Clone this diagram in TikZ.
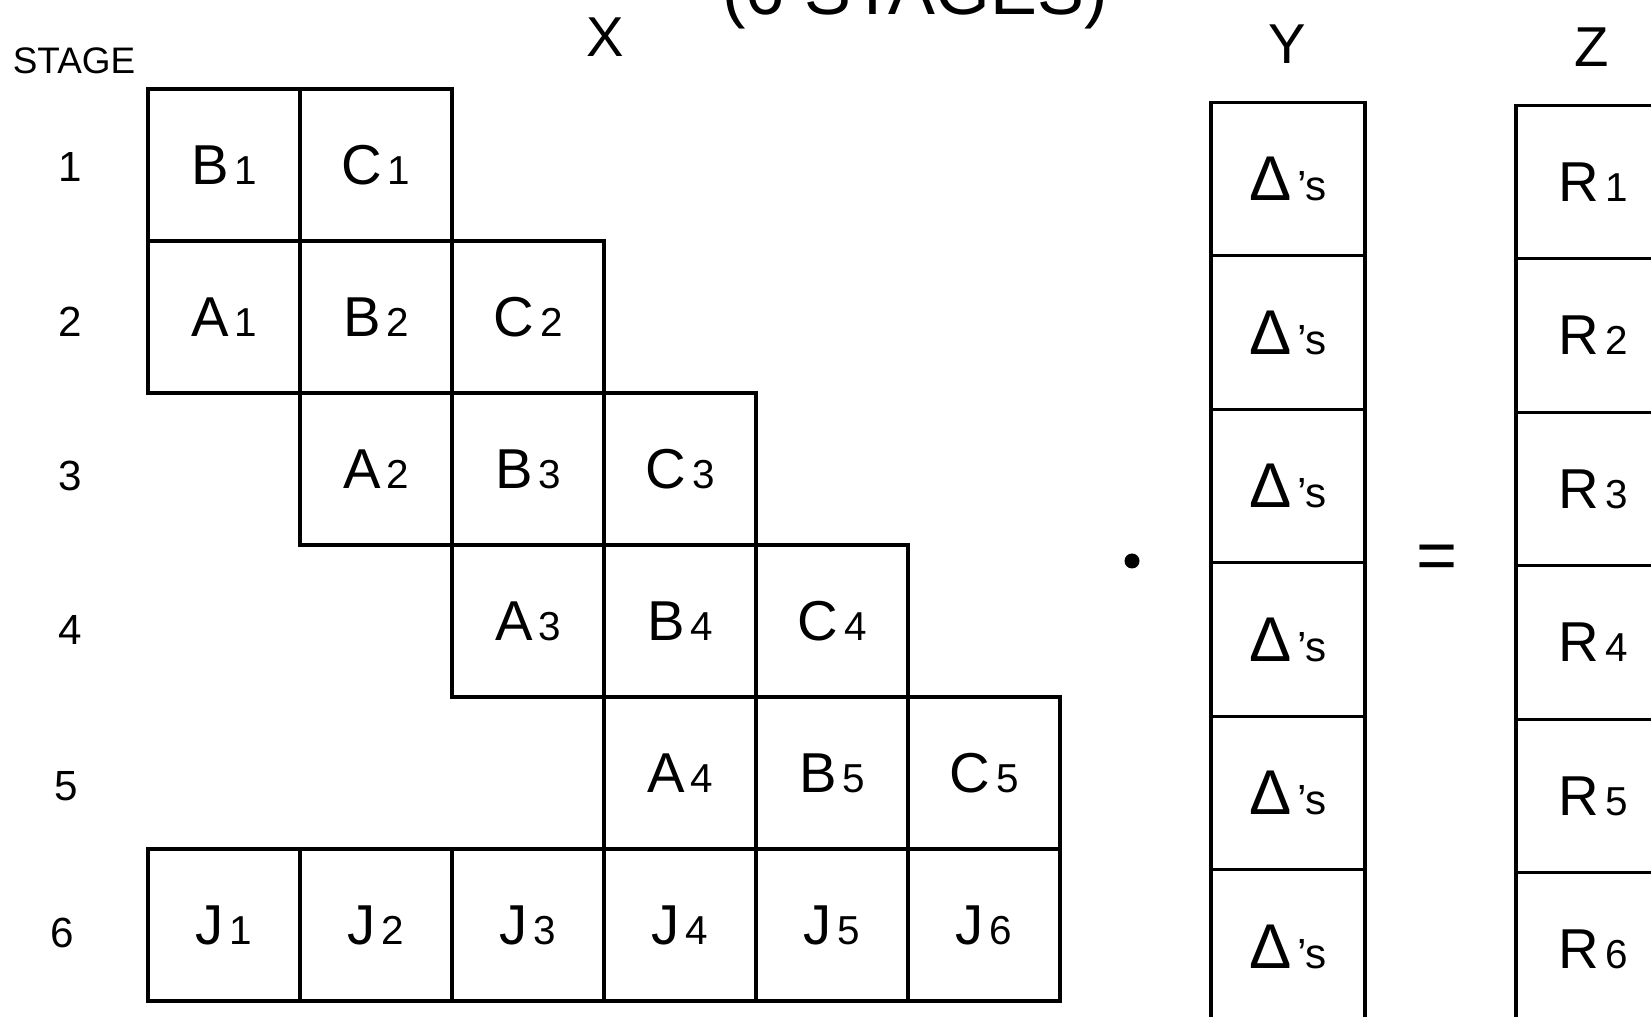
\documentclass[tikz,border=0pt]{standalone}
\usepackage{fontspec}
\setmainfont{Liberation Sans}
\usetikzlibrary{positioning}
\newcommand\cellbig{\fontsize{16}{18}\selectfont}
\newcommand\cellsmall{\fontsize{11.5}{13}\selectfont}
\newcommand\lbl[2]{{\cellbig #1}\,{\cellsmall #2}}
\newcommand\deltas{{\fontsize{18}{20}\selectfont Δ}\,{\fontsize{12}{14}\selectfont ’s}}
\tikzset{
  cell/.style={
    draw,
    line width=0.9pt,
    minimum width=1.52cm,
    minimum height=1.52cm,
    inner sep=0pt,
    outer sep=0pt
  },
  colcell/.style={
    cell,
    minimum width=1.54cm,
    minimum height=1.535cm
  },
  stagelbl/.style={font=\fontsize{10.5}{12}\selectfont},
  stagenum/.style={font=\fontsize{12}{14}\selectfont},
  heading/.style={font=\fontsize{16}{18}\selectfont}
}
\begin{document}
\begin{tikzpicture}
  \path[use as bounding box,clip] (0,0) rectangle (16.51,-10.17);
  \fill[white] (0,0) rectangle (16.51,-10.17);
  % headings
  \node[heading,font=\fontsize{20}{22}\selectfont,anchor=base] (title) at (9.15,-0.15) {(6 STAGES)};
  \node[stagelbl] (stage) at (0.74,-0.61) {STAGE};
  \node[heading] (xhead) at (6.05,-0.37) {X};
  \node[heading] (yhead) at (12.87,-0.44) {Y};
  \node[heading] (zhead) at (15.92,-0.47) {Z};
  % stage numbers
  \node[stagenum] (st1) at (0.70,-1.67) {1};
  \node[stagenum] (st2) at (0.70,-3.22) {2};
  \node[stagenum] (st3) at (0.70,-4.76) {3};
  \node[stagenum] (st4) at (0.70,-6.30) {4};
  \node[stagenum] (st5) at (0.66,-7.86) {5};
  \node[stagenum] (st6) at (0.62,-9.33) {6};
  % matrix X
  \node[cell] (b1) at (2.24,-1.65) {\lbl{B}{1}};
  \node[cell,right=0pt of b1] (c1) {\lbl{C}{1}};
  \node[cell,below=0pt of b1] (a1) {\lbl{A}{1}};
  \node[cell,right=0pt of a1] (b2) {\lbl{B}{2}};
  \node[cell,right=0pt of b2] (c2) {\lbl{C}{2}};
  \node[cell,below=0pt of b2] (a2) {\lbl{A}{2}};
  \node[cell,right=0pt of a2] (b3) {\lbl{B}{3}};
  \node[cell,right=0pt of b3] (c3) {\lbl{C}{3}};
  \node[cell,below=0pt of b3] (a3) {\lbl{A}{3}};
  \node[cell,right=0pt of a3] (b4) {\lbl{B}{4}};
  \node[cell,right=0pt of b4] (c4) {\lbl{C}{4}};
  \node[cell,below=0pt of b4] (a4) {\lbl{A}{4}};
  \node[cell,right=0pt of a4] (b5) {\lbl{B}{5}};
  \node[cell,right=0pt of b5] (c5) {\lbl{C}{5}};
  \node[cell] (j1) at (2.24,-9.25) {\lbl{J}{1}};
  \node[cell,right=0pt of j1] (j2) {\lbl{J}{2}};
  \node[cell,right=0pt of j2] (j3) {\lbl{J}{3}};
  \node[cell,right=0pt of j3] (j4) {\lbl{J}{4}};
  \node[cell,right=0pt of j4] (j5) {\lbl{J}{5}};
  \node[cell,right=0pt of j5] (j6) {\lbl{J}{6}};
  % product sign
  \node[circle,fill,minimum size=0.15cm,inner sep=0pt] (dot) at (11.32,-5.61) {};
  % vector Y
  \node[colcell] (y1) at (12.88,-1.79) {\deltas};
  \node[colcell,below=0pt of y1] (y2) {\deltas};
  \node[colcell,below=0pt of y2] (y3) {\deltas};
  \node[colcell,below=0pt of y3] (y4) {\deltas};
  \node[colcell,below=0pt of y4] (y5) {\deltas};
  \node[colcell,below=0pt of y5] (y6) {\deltas};
  % equals
  \node[font=\fontsize{20}{22}\selectfont] (eq) at (14.37,-5.62) {=};
  % vector Z
  \node[colcell] (r1) at (15.93,-1.82) {\lbl{R}{1}};
  \node[colcell,below=0pt of r1] (r2) {\lbl{R}{2}};
  \node[colcell,below=0pt of r2] (r3) {\lbl{R}{3}};
  \node[colcell,below=0pt of r3] (r4) {\lbl{R}{4}};
  \node[colcell,below=0pt of r4] (r5) {\lbl{R}{5}};
  \node[colcell,below=0pt of r5] (r6) {\lbl{R}{6}};
\end{tikzpicture}
\end{document}
